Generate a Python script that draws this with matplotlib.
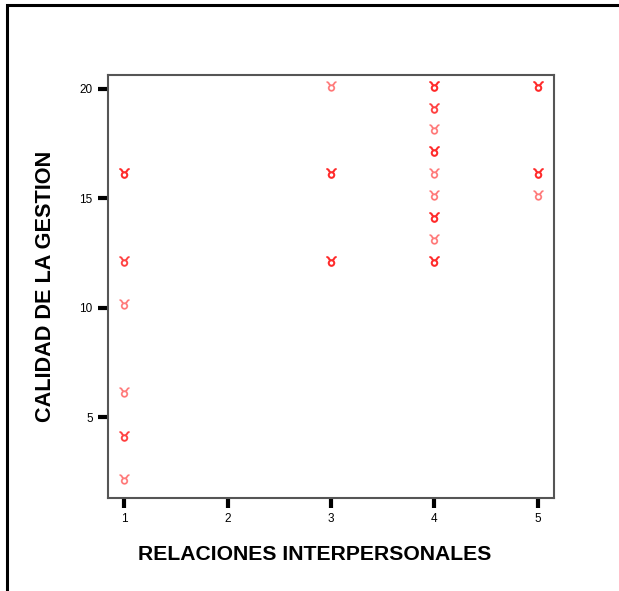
import numpy as np
import matplotlib
matplotlib.use("Agg")
import matplotlib.pyplot as plt
from matplotlib.patches import Rectangle

# Datos: cada punto con su frecuencia (los puntos repetidos se ven mas oscuros)
relaciones = [1, 1, 1, 1, 1, 1, 3, 3, 3, 4, 4, 4, 4, 4, 4, 4, 4, 4, 5, 5, 5]
calidad = [16, 12, 10, 6, 4, 2, 20, 16, 12, 20, 19, 18, 17, 16, 15, 14, 13, 12, 20, 16, 15]
frecuencia = [3, 2, 1, 1, 2, 1, 1, 3, 3, 3, 2, 1, 3, 1, 1, 3, 1, 3, 3, 3, 1]

xticks = [1, 2, 3, 4, 5]
yticks = [5, 10, 15, 20]

plt.rcParams['font.family'] = ['Liberation Sans', 'DejaVu Sans']

fig = plt.figure(figsize=(6.19, 5.91), dpi=100)
ax = fig.add_axes([108 / 619, 1 - 498 / 591, 446 / 619, 423 / 591])

# marco exterior del grafico
fig.add_artist(Rectangle((7 / 619, -0.2), 1.2, 1.2 - 5 / 591,
                         transform=fig.transFigure, fill=False,
                         edgecolor='black', linewidth=2.2))

x = np.repeat(relaciones, frecuencia)
y = np.repeat(calidad, frecuencia)
ax.scatter(x, y + 0.15, marker='$\u2649$', s=48, color='#ff1a1a', alpha=0.4,
           linewidths=0.7, edgecolors='#ff1a1a')

ax.set_xlim(0.845, 5.155)
ax.set_ylim(1.3, 20.64)
ax.set_xticks(xticks)
ax.set_yticks(yticks)
ax.tick_params(direction='out', length=7, width=3, color='black',
               labelsize=8.5, pad=4)
for s in ax.spines.values():
    s.set_color('#555555')
    s.set_linewidth(1.5)

ax.set_xlabel('RELACIONES INTERPERSONALES', fontsize=15.2, fontweight='bold')
ax.xaxis.set_label_coords(0.463, -0.11)
ax.set_ylabel('CALIDAD DE LA GESTION', fontsize=15.6, fontweight='bold',
              labelpad=17)

fig.savefig('out.png', dpi=100)
